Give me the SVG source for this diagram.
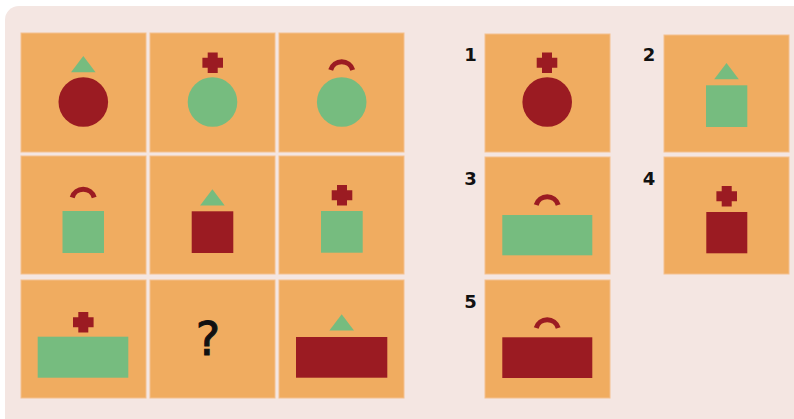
<svg xmlns="http://www.w3.org/2000/svg" xmlns:xlink="http://www.w3.org/1999/xlink" width="794" height="419" viewBox="0 0 794 419">
<style>
.cell{fill:#F0AC60;stroke:#F4C08E;stroke-width:1}
.red{fill:#9B1B22}
.green{fill:#76BC7F}
.arc{fill:none;stroke:#9B1B22;stroke-width:5}
.num{font-family:"DejaVu Sans",sans-serif;font-weight:bold;font-size:18px;fill:#111;text-anchor:middle}
.q{font-family:"DejaVu Sans",sans-serif;font-size:46px;fill:#111;stroke:#111;stroke-width:1;text-anchor:middle}
</style>
<defs>
<path id="cross" d="M-5,-10.3H5V-5H10.3V5H5V10.3H-5V5H-10.3V-5H-5Z"/>
<path id="tri" d="M0,0L12.3,16.3H-12.3Z"/>
<path id="arc" d="M-11,0A11.5 11.5 0 0 1 11,0"/>
</defs>
<rect x="0" y="0" width="794" height="419" fill="#ffffff"/>
<rect x="5" y="6" width="820" height="440" rx="14" fill="#F4E6E2"/>

<g id="g11"><rect class="cell" x="21" y="33" width="125" height="119"/><use href="#tri" class="green" x="83.3" y="56"/><circle class="red" cx="83.3" cy="102" r="24.8"/></g>
<g id="g12"><rect class="cell" x="150" y="33" width="125" height="119"/><use href="#cross" class="red" x="212.7" y="62.7"/><circle class="green" cx="212.5" cy="102" r="24.8"/></g>
<g id="g13"><rect class="cell" x="279" y="33" width="125" height="119"/><use href="#arc" class="arc" x="341.7" y="70"/><circle class="green" cx="341.7" cy="102" r="24.8"/></g>

<g id="g21"><rect class="cell" x="21" y="156" width="125" height="118"/><use href="#arc" class="arc" x="83.2" y="197.5"/><rect class="green" x="62.5" y="211" width="41.5" height="42"/></g>
<g id="g22"><rect class="cell" x="150" y="156" width="125" height="118"/><use href="#tri" class="green" x="212.4" y="189.2"/><rect class="red" x="191.7" y="211.3" width="41.6" height="41.7"/></g>
<g id="g23"><rect class="cell" x="279" y="156" width="125" height="118"/><use href="#cross" class="red" x="342" y="195.3"/><rect class="green" x="321" y="211" width="41.7" height="41.7"/></g>

<g id="g31"><rect class="cell" x="21" y="280" width="125" height="118"/><use href="#cross" class="red" x="83.3" y="322.2"/><rect class="green" x="37.7" y="336.7" width="90.6" height="41"/></g>
<g id="g32"><rect class="cell" x="150" y="280" width="125" height="118"/><text class="q" x="208" y="355">?</text></g>
<g id="g33"><rect class="cell" x="279" y="280" width="125" height="118"/><use href="#tri" class="green" x="341.7" y="314.3"/><rect class="red" x="296" y="337" width="91.3" height="40.7"/></g>

<g id="a1"><text class="num" x="470.5" y="61">1</text><rect class="cell" x="485" y="34" width="125" height="118"/><use href="#cross" class="red" x="547" y="62.7"/><circle class="red" cx="547.2" cy="102" r="24.8"/></g>
<g id="a2"><text class="num" x="649" y="61">2</text><rect class="cell" x="664" y="35" width="125" height="117"/><use href="#tri" class="green" x="726.5" y="63"/><rect class="green" x="706" y="85.3" width="41.3" height="41.7"/></g>
<g id="a3"><text class="num" x="470.5" y="184.5">3</text><rect class="cell" x="485" y="157" width="125" height="117"/><use href="#arc" class="arc" x="547.2" y="205"/><rect class="green" x="502.3" y="215" width="90" height="40.3"/></g>
<g id="a4"><text class="num" x="649" y="184.5">4</text><rect class="cell" x="664" y="157" width="125" height="117"/><use href="#cross" class="red" x="726.7" y="196.3"/><rect class="red" x="706.3" y="212" width="41" height="41.3"/></g>
<g id="a5"><text class="num" x="470.5" y="308">5</text><rect class="cell" x="485" y="280" width="125" height="118"/><use href="#arc" class="arc" x="547.2" y="328"/><rect class="red" x="502.3" y="337.3" width="90" height="40.7"/></g>
</svg>
